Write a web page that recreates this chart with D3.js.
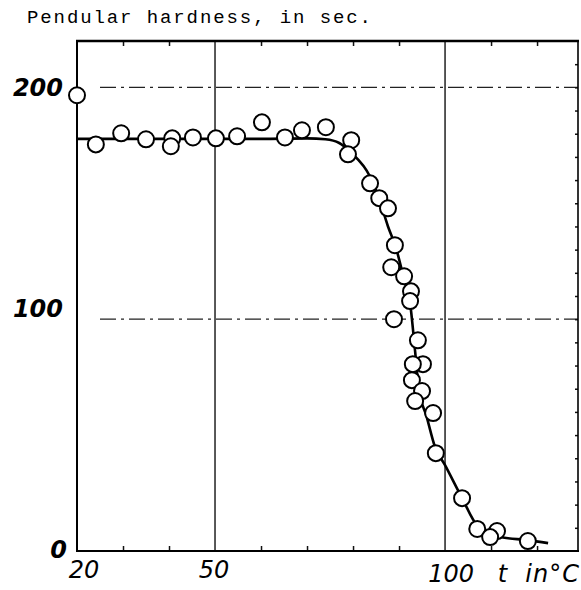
<!DOCTYPE html>
<html>
<head>
<meta charset="utf-8">
<script src="https://cdn.jsdelivr.net/npm/d3@7"></script>
<style>
  body { margin: 0; background: #fff; }
  svg { display: block; }
</style>
</head>
<body>
<div id="app"></div>
<script>
// measured points: temperature (°C) and pendulum hardness (s)
const pointT = [20, 24.1, 29.6, 35, 40.7, 40.4, 45.2, 50.2, 54.8, 60.2, 65.2, 68.9, 74.1,
  79.6, 78.9, 83.7, 85.7, 87.6, 89.1, 88.3, 91.1, 92.6, 92.4, 88.9, 94.1, 95.2, 93, 92.8,
  95, 93.5, 97.4, 98, 103.7, 107, 111.3, 109.8, 118]
const pointH = [196.6, 175.4, 180.2, 177.6, 178, 174.6, 178.4, 178, 178.9, 184.9, 178.4, 181.5, 182.8,
  177.2, 171.1, 158.6, 152.2, 147.8, 131.9, 122.4, 118.5, 112, 107.8, 100, 90.9, 80.6, 80.6, 73.7,
  69, 64.7, 59.5, 42.2, 22.8, 9.5, 8.6, 6, 4.3]

// fitted curve
const curveT = [20, 40, 60, 70, 74, 77, 79, 81, 83, 85.5, 87.6, 89.3, 91, 92.4, 93.5, 94.3, 96, 97.8, 100, 103.7, 107, 112, 118, 122.4]
const curveH = [177.8, 177.8, 177.8, 178, 177.6, 176, 173, 169, 164, 153, 140, 131, 118, 107, 86, 70, 58, 45, 37, 22.8, 11, 6, 4.7, 3.4]

const xLabels = [20, 50, 100]
const yLabels = [0, 100, 200]
const gridX = [50, 100]
const gridY = [100, 200]

const W = 581, H = 590
const svg = d3.select('#app').append('svg').attr('width', W).attr('height', H)

const x = d3.scaleLinear().domain([20, 128.9]).range([77, 578])
const y = d3.scaleLinear().domain([0, 220]).range([551, 41])

// title
svg.append('text')
  .attr('x', 27).attr('y', 23)
  .style('font-family', 'Liberation Mono, monospace')
  .style('font-size', '19px')
  .style('letter-spacing', '1.9px')
  .text('Pendular hardness, in sec.')

// gridlines
svg.selectAll('.gx').data(gridX).enter().append('line')
  .attr('x1', d => x(d)).attr('x2', d => x(d))
  .attr('y1', y(220)).attr('y2', y(0))
  .attr('stroke', '#111').attr('stroke-width', 1.4)

svg.selectAll('.gy').data(gridY).enter().append('line')
  .attr('x1', x(25)).attr('x2', x(128.9))
  .attr('y1', d => y(d)).attr('y2', d => y(d))
  .attr('stroke', '#222').attr('stroke-width', 1.3)
  .attr('stroke-dasharray', '16,5,3,5')

// inward ticks
const decades = [30, 40, 60, 70, 80, 90, 110, 120]
const bottomAxis = d3.axisBottom(x).tickValues(decades).tickSize(-5).tickFormat('')
svg.append('g').attr('transform', 'translate(0,' + y(0) + ')').call(bottomAxis)
const topAxis = d3.axisTop(x).tickValues(decades).tickSize(-5).tickFormat('')
svg.append('g').attr('transform', 'translate(0,' + y(220) + ')').call(topAxis)
const rightAxis = d3.axisRight(y).tickValues(d3.range(10, 220, 10)).tickSize(-3).tickFormat('')
svg.append('g').attr('transform', 'translate(' + x(128.9) + ',0)').call(rightAxis)
svg.selectAll('.domain').remove()
svg.selectAll('.tick line').attr('stroke', '#111').attr('stroke-width', 1.5)

// frame
svg.append('line').attr('x1', x(20)).attr('x2', x(20)).attr('y1', y(220)).attr('y2', y(0)).attr('stroke', '#000').attr('stroke-width', 2)
svg.append('line').attr('x1', x(20) - 1).attr('x2', x(128.9) + 1).attr('y1', y(0)).attr('y2', y(0)).attr('stroke', '#000').attr('stroke-width', 2.2)
svg.append('line').attr('x1', x(20) - 1).attr('x2', x(128.9) + 1).attr('y1', y(220)).attr('y2', y(220)).attr('stroke', '#000').attr('stroke-width', 2.6)
svg.append('line').attr('x1', x(128.9)).attr('x2', x(128.9)).attr('y1', y(220)).attr('y2', y(0)).attr('stroke', '#000').attr('stroke-width', 1.6)

// curve
svg.append('path')
  .datum(d3.zip(curveT, curveH))
  .attr('d', d3.line().x(d => x(d[0])).y(d => y(d[1])).curve(d3.curveMonotoneX))
  .attr('fill', 'none').attr('stroke', '#000').attr('stroke-width', 2.6)

// points
svg.selectAll('.pt').data(d3.zip(pointT, pointH)).enter().append('circle')
  .attr('cx', d => x(d[0])).attr('cy', d => y(d[1])).attr('r', 8)
  .attr('fill', '#fff').attr('stroke', '#000').attr('stroke-width', 2)

// y labels
const yOff = { 0: 0, 100: -9, 200: 2 }
svg.selectAll('.yl').data(yLabels).enter().append('text')
  .attr('x', d => d === 0 ? 67 : 63)
  .attr('y', d => y(d) + yOff[d])
  .attr('text-anchor', 'end')
  .attr('dominant-baseline', 'middle')
  .style('font-family', 'DejaVu Sans, sans-serif')
  .style('font-weight', 'bold').style('font-style', 'italic')
  .style('font-size', '24px')
  .text(d => d)

// x labels
const xOff = { 20: 7, 50: -1, 100: 6 }
svg.selectAll('.xl').data(xLabels).enter().append('text')
  .attr('x', d => x(d) + xOff[d])
  .attr('y', d => d === 100 ? 582 : 578)
  .attr('text-anchor', 'middle')
  .style('font-family', 'DejaVu Sans, sans-serif')
  .style('font-style', 'italic')
  .style('font-size', '24px')
  .text(d => d)

svg.append('text')
  .attr('x', 580).attr('y', 582)
  .attr('text-anchor', 'end')
  .style('font-family', 'DejaVu Sans, sans-serif')
  .style('font-style', 'italic')
  .style('font-size', '24px')
  .style('white-space', 'pre')
  .style('letter-spacing', '1px')
  .text('t  in°C')
</script>
</body>
</html>
